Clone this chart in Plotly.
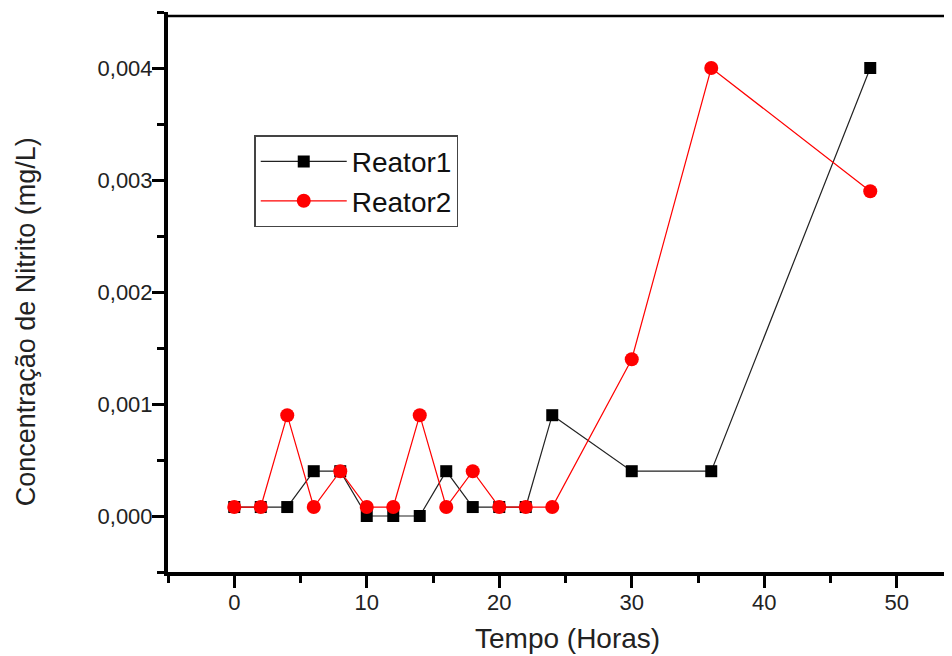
import plotly.graph_objects as go

tempo = [0, 2, 4, 6, 8, 10, 12, 14, 16, 18, 20, 22, 24, 30, 36, 48]
reator1 = [0.00008, 0.00008, 0.00008, 0.0004, 0.0004, 0.0, 0.0, 0.0, 0.0004,
           0.00008, 0.00008, 0.00008, 0.0009, 0.0004, 0.0004, 0.004]
reator2 = [0.00008, 0.00008, 0.0009, 0.00008, 0.0004, 0.00008, 0.00008, 0.0009,
           0.00008, 0.0004, 0.00008, 0.00008, 0.00008, 0.0014, 0.004, 0.0029]
x_ticks = [0, 10, 20, 30, 40, 50]
y_ticks = [0.000, 0.001, 0.002, 0.003, 0.004]
x_title = "Tempo (Horas)"
y_title = "Concentração de Nitrito (mg/L)"

FONT = "Liberation Sans, Arial, sans-serif"
TEXT = "#222222"

fig = go.Figure()
fig.add_trace(go.Scatter(
    x=tempo, y=reator1, name="Reator1", mode="lines+markers",
    line=dict(color="#222222", width=1.2),
    marker=dict(symbol="square", size=12, color="black"),
))
fig.add_trace(go.Scatter(
    x=tempo, y=reator2, name="Reator2", mode="lines+markers",
    line=dict(color="#ff0000", width=1.2),
    marker=dict(symbol="circle", size=14, color="#ff0000"),
))

axis_common = dict(
    showgrid=False, zeroline=False, showline=True, linecolor="black",
    linewidth=4, ticks="outside", ticklen=12, tickwidth=3, tickcolor="black",
)

fig.update_xaxes(
    range=[-5, 54.17], tickvals=x_ticks,
    tickfont=dict(family=FONT, size=22, color=TEXT),
    ticklabelstandoff=-4,
    minor=dict(ticks="outside", dtick=5, tick0=0, ticklen=7, tickwidth=3,
               tickcolor="black", showgrid=False),
    **axis_common,
)
fig.update_yaxes(
    range=[-0.0005, 0.0045], tickvals=y_ticks, tickformat=".3f",
    tickfont=dict(family=FONT, size=22, color=TEXT),
    ticklabelstandoff=-5,
    minor=dict(ticks="outside", dtick=0.0005, tick0=0, ticklen=7, tickwidth=3,
               tickcolor="black", showgrid=False),
    **axis_common,
)

fig.add_shape(type="line", xref="paper", yref="paper", x0=0, x1=1, y0=0.993, y1=0.993,
              line=dict(color="black", width=2.5))

fig.add_annotation(text=y_title, xref="paper", yref="paper", x=-0.181, y=0.446,
                   textangle=-90, showarrow=False, xanchor="center", yanchor="middle",
                   font=dict(family=FONT, size=27, color=TEXT))
fig.add_annotation(text=x_title, xref="paper", yref="paper", x=0.510, y=-0.118,
                   showarrow=False, xanchor="center", yanchor="middle",
                   font=dict(family=FONT, size=28, color=TEXT))

# page body has an 8px margin; figure is offset accordingly
fig.update_layout(
    width=944, height=648,
    margin=dict(l=160, r=0, t=4, b=84),
    paper_bgcolor="white", plot_bgcolor="white",
    separators=",.",
    showlegend=True,
    legend=dict(x=0.11, y=0.78, xanchor="left", yanchor="top",
                bgcolor="white", bordercolor="#444444", borderwidth=1.5,
                itemwidth=86,
                font=dict(family=FONT, size=28, color="#111111")),
)

fig.write_html("out.html")
